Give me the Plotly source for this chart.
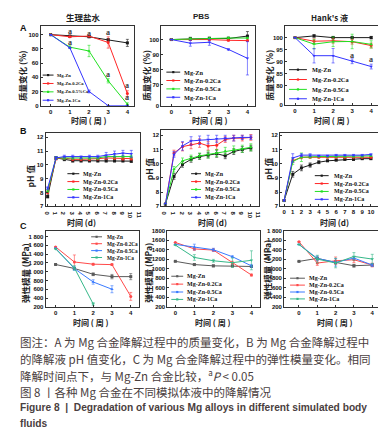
import plotly.graph_objects as go

W, H = 386, 429
def PX(x): return x / W
def PY(y): return 1 - y / H

# ---------------- data ----------------
weeks = [0, 1, 2, 3, 4]
days = [0, 1, 2, 3, 4, 5, 6, 7, 8, 9, 10]
names = ["Mg-Zn", "Mg-Zn-0.2Ca", "Mg-Zn-0.5Ca", "Mg-Zn-1Ca"]
names_a1 = ["Mg-Zn", "Mg-Zn-0.2Ca", "Mg-Zn-0.5%Ca", "Mg-Zn-1Ca"]

# A: mass change (%)
a1_zn = [100, 98, 97, 92.6, 88.4]
a1_02 = [100, 97, 98, 89, 17]
a1_05 = [100, 82.4, 77, 35, 2]
a1_10 = [100, 81.5, 20, 0, 0]
a1_err = [[0, 1, 1, 2, 5], [0, 1, 1, 8, 4], [0, 2, 8, 3, 2], [0, 1, 2, 0, 0]]

a2_zn = [100, 100.5, 100.7, 100.7, 102.3]
a2_02 = [100, 100, 100, 99.5, 99.3]
a2_05 = [100, 100.5, 100.8, 101, 101]
a2_10 = [100, 97.6, 98.2, 93.5, 87.6]
a2_err = [[0, 1, 1, 1, 3], [0, 0.5, 0.5, 0.5, 0.5], [0, 0.5, 0.5, 0.5, 0.5], [0, 2, 2, 0.5, 11]]

a3_zn = [100, 100.7, 100, 100, 100]
a3_02 = [100, 98.5, 98.7, 98.3, 96.7]
a3_05 = [100, 97.3, 98.3, 98.4, 97.2]
a3_10 = [100, 92.5, 92.5, 90.2, 88.0]
a3_err = [[0, 0.5, 0.5, 0.5, 0.5], [0, 1, 1, 1, 1], [0, 2, 2, 3, 1.5], [0, 3, 3, 1, 1]]

# B: pH value
b1_zn = [7.7, 10.5, 10.4, 10.3, 10.3, 10.3, 10.3, 10.3, 10.3, 10.3, 10.27]
b1_02 = [8.0, 10.45, 10.5, 10.4, 10.4, 10.4, 10.45, 10.5, 10.5, 10.45, 10.45]
b1_05 = [8.1, 10.5, 10.5, 10.5, 10.5, 10.5, 10.5, 10.6, 10.6, 10.6, 10.6]
b1_10 = [8.3, 10.5, 10.6, 10.6, 10.55, 10.6, 10.6, 10.7, 10.8, 10.85, 10.8]
b1_err = [[0.1] * 11, [0.1] * 11, [0.1] * 11, [0.1, 0.1, 0.1, 0.1, 0.1, 0.1, 0.1, 0.2, 0.2, 0.2, 0.25]]

b2_zn = [7.15, 9.1, 9.95, 10.3, 10.5, 10.6, 10.7, 10.55, 10.85, 11.0, 11.1]
b2_02 = [7.15, 10.75, 11.2, 11.35, 11.45, 11.25, 11.3, 11.7, 11.8, 11.8, 11.85]
b2_05 = [7.15, 9.6, 10.2, 10.4, 10.55, 10.65, 10.75, 10.9, 11.0, 11.05, 11.15]
b2_10 = [7.15, 10.65, 11.25, 11.6, 11.65, 11.7, 11.75, 11.8, 11.8, 11.85, 11.85]
b2_err = [[0.05, 0.2, 0.2, 0.2, 0.2, 0.2, 0.25, 0.2, 0.2, 0.2, 0.2],
          [0.05, 0.2, 0.3, 0.3, 0.3, 0.3, 0.3, 0.2, 0.2, 0.2, 0.2],
          [0.05, 0.2, 0.2, 0.2, 0.2, 0.25, 0.25, 0.25, 0.25, 0.25, 0.25],
          [0.05, 0.2, 0.3, 0.3, 0.3, 0.3, 0.25, 0.2, 0.2, 0.15, 0.15]]

b3_zn = [7.4, 9.25, 9.7, 9.9, 10.1, 10.2, 10.25, 10.3, 10.3, 10.35, 10.35]
b3_02 = [7.4, 10.2, 10.45, 10.45, 10.45, 10.45, 10.45, 10.45, 10.45, 10.45, 10.45]
b3_05 = [7.4, 10.15, 10.45, 10.5, 10.5, 10.5, 10.5, 10.5, 10.5, 10.5, 10.55]
b3_10 = [7.4, 10.4, 10.6, 10.6, 10.55, 10.55, 10.6, 10.6, 10.6, 10.6, 10.65]
b3_err = [[0.05, 0.2, 0.2, 0.15, 0.1, 0.05, 0.05, 0.05, 0.05, 0.05, 0.05],
          [0.05, 0.1, 0.1, 0.05, 0.05, 0.05, 0.05, 0.05, 0.05, 0.05, 0.05],
          [0.05, 0.2, 0.3, 0.1, 0.05, 0.05, 0.05, 0.05, 0.05, 0.05, 0.05],
          [0.05, 0.3, 0.1, 0.1, 0.05, 0.05, 0.05, 0.05, 0.05, 0.05, 0.05]]

# C: elastic modulus (MPa)
c1_zn = [1163, 1073, 940, 887, 887]
c1_02 = [1563, 1220, 1170, 1160, 437]
c1_05 = [1533, 1070, 765, 600]
c1_10 = [1518, 1085, 265]
c1_err = [[0, 0, 30, 50, 70], [0, 160, 20, 20, 90], [0, 40, 50, 80], [0, 50, 30]]

c2_zn = [1158, 1090, 1063, 1063, 1050]
c2_02 = [1556, 1420, 1395, 1130, 870]
c2_05 = [1515, 1460, 1403, 1255, 1063]
c2_10 = [1500, 1240, 1170, 1130, 1180]
c2_err = [[0, 20, 20, 20, 20], [0, 30, 30, 30, 20], [0, 60, 30, 20, 30], [0, 60, 30, 100, 200]]

c3_zn = [1157, 1220, 1136, 1066, 1080]
c3_02 = [1570, 1122, 1170, 1192, 1080]
c3_05 = [1514, 1220, 1136, 1227, 1080]
c3_10 = [1514, 1206, 1122, 1262, 1206]
c3_err = [[0, 30, 30, 30, 30], [0, 50, 80, 60, 40], [0, 50, 80, 30, 30], [0, 80, 100, 80, 100]]

# significance marks "a" (x, y)
a1_sig = [(1, 104), (1, 89), (2, 101), (3, 103), (3, 44), (4, 28), (4, 12)]
a3_sig = [(1, 105.6), (2, 105.6), (3, 92.6), (4, 90.9)]

# tick labels
ticks_a1 = ([0, 20, 40, 60, 80, 100], ["0", "20", "40", "60", "80", "100"])
ticks_a2 = ([56.3, 70, 80, 90, 100], ["0", "70", "80", "90", "100"])
ticks_a3 = ([72.2, 80, 85, 90, 95, 100], ["0", "80", "85", "90", "95", "100"])
ticks_b = ([7, 8, 9, 10, 11, 12], ["7", "8", "9", "10", "11", "12"])
ticks_c1 = ([200, 400, 600, 800, 1000, 1200, 1400, 1600, 1800],
            ["200", "400", "600", "800", "1 000", "1 200", "1 400", "1 600", "1 800"])
ticks_c2 = ([200, 400, 600, 800, 1000, 1200, 1400, 1600, 1800],
            ["200", "400", "600", "800", "1000", "1200", "1400", "1600", "1800"])
xt_weeks = ([0, 1, 2, 3, 4], ["0", "1", "2", "3", "4"])
xt_days = (list(range(12)), [str(i) for i in range(12)])

# ---------------- styling ----------------
col_ab = ["#1a1a1a", "#ff2626", "#22e022", "#3434ff"]
col_c = ["#5a5a5a", "#ff4a4a", "#3a7bff", "#36b889"]
symbols = ["square", "circle", "triangle-up", "triangle-down"]

panels = [
    dict(box=(31, 125, 15, 96), xr=(-0.52, 4.33), yr=(0, 112.5), xt=xt_weeks, yt=ticks_a1,
         x=weeks, ys=[a1_zn, a1_02, a1_05, a1_10], err=a1_err, cols=col_ab,
         leg=dict(ys=[65, 73.5, 82, 90.5], x0=33, x1=44, xt=45, fs=4.6, names=names_a1)),
    dict(box=(153, 248, 15, 96), xr=(-0.52, 4.42), yr=(56.3, 109.1), xt=xt_weeks, yt=ticks_a2,
         x=weeks, ys=[a2_zn, a2_02, a2_05, a2_10], err=a2_err, cols=col_ab,
         leg=dict(ys=[62, 70.5, 79, 87.5], x0=158, x1=172, xt=174, fs=6.3, names=names)),
    dict(box=(278, 374, 15, 95), xr=(-0.52, 4.47), yr=(72.2, 104.9), xt=xt_weeks, yt=ticks_a3,
         x=weeks, ys=[a3_zn, a3_02, a3_05, a3_10], err=a3_err, cols=col_ab,
         leg=dict(ys=[59.5, 69.5, 79.5, 89], x0=282, x1=300, xt=303, fs=6.3, names=names)),
    dict(box=(36, 131, 124, 198), xr=(-0.24, 11), yr=(7, 12.29), xt=xt_days, yt=ticks_b,
         x=days, ys=[b1_zn, b1_02, b1_05, b1_10], err=b1_err, cols=col_ab,
         leg=dict(ys=[165, 173, 181, 189], x0=58, x1=70, xt=72, fs=6.0, names=names)),
    dict(box=(153, 252, 121, 198), xr=(-0.47, 11), yr=(7, 12.35), xt=xt_days, yt=ticks_b,
         x=days, ys=[b2_zn, b2_02, b2_05, b2_10], err=b2_err, cols=col_ab,
         leg=dict(ys=[165, 173, 181, 189], x0=183, x1=193, xt=195, fs=6.0, names=names)),
    dict(box=(273, 373, 124, 198), xr=(-0.45, 10.95), yr=(7, 12.14), xt=xt_days, yt=ticks_b,
         x=days, ys=[b3_zn, b3_02, b3_05, b3_10], err=b3_err, cols=col_ab,
         leg=dict(ys=[167, 175, 183, 191], x0=308, x1=322, xt=325, fs=6.0, names=names)),
    dict(box=(36, 130, 223, 300), xr=(-0.53, 4.42), yr=(200, 1928), xt=xt_weeks, yt=ticks_c1,
         x=weeks, ys=[c1_zn, c1_02, c1_05, c1_10], err=c1_err, cols=col_c,
         leg=dict(ys=[229, 236, 243, 250], x0=82, x1=93, xt=96, fs=5.3, names=names)),
    dict(box=(159, 253, 223, 300), xr=(-0.42, 4.47), yr=(200, 1800), xt=xt_weeks, yt=ticks_c2,
         x=weeks, ys=[c2_zn, c2_02, c2_05, c2_10], err=c2_err, cols=col_c,
         leg=dict(ys=[269, 277, 285, 292.5], x0=163, x1=175, xt=177, fs=6.0, names=names)),
    dict(box=(277, 374, 223, 300), xr=(-0.81, 4.43), yr=(200, 1800), xt=xt_weeks, yt=ticks_c1,
         x=weeks, ys=[c3_zn, c3_02, c3_05, c3_10], err=c3_err, cols=col_c,
         leg=dict(ys=[271, 278, 285, 292], x0=283, x1=298, xt=300, fs=6.0, names=names)),
]

fig = go.Figure()
layout = dict(width=W, height=H, margin=dict(l=0, r=0, t=0, b=0), autosize=False,
              paper_bgcolor="white", plot_bgcolor="white", showlegend=False)
shapes, annos = [], []
tickfont = dict(family="Liberation Sans", size=6, color="#111", weight="bold")
serif = "Liberation Serif"
cjk = "Noto Sans CJK SC"

for i, p in enumerate(panels, start=1):
    sfx = "" if i == 1 else str(i)
    l, r, t, b = p["box"]
    common = dict(tickfont=tickfont, showline=True, mirror=True, linecolor="#333", linewidth=1,
                  ticks="inside", ticklen=2, tickwidth=0.8, tickcolor="#333",
                  showgrid=False, zeroline=False, fixedrange=True)
    layout["xaxis" + sfx] = dict(domain=[PX(l), PX(r)], range=list(p["xr"]), anchor="y" + sfx,
                                 tickvals=p["xt"][0], ticktext=p["xt"][1], **common)
    layout["yaxis" + sfx] = dict(domain=[PY(b), PY(t)], range=list(p["yr"]), anchor="x" + sfx,
                                 tickvals=p["yt"][0], ticktext=p["yt"][1], **common)
    for k, (yv, ev) in enumerate(zip(p["ys"], p["err"])):
        c = p["cols"][k]
        xs = p["x"][:len(yv)]
        fig.add_trace(go.Scatter(
            x=xs, y=yv, mode="lines+markers", name=p["leg"]["names"][k],
            line=dict(color=c, width=1),
            marker=dict(symbol=symbols[k], size=3, color=c),
            error_y=dict(type="data", array=ev, color=c, thickness=0.6, width=1.5),
            xaxis="x" + sfx, yaxis="y" + sfx, cliponaxis=False))
    lg = p["leg"]
    for k, yy in enumerate(lg["ys"]):
        c = p["cols"][k]
        shapes.append(dict(type="line", xref="paper", yref="paper",
                           x0=PX(lg["x0"]), x1=PX(lg["x1"]), y0=PY(yy), y1=PY(yy),
                           line=dict(color=c, width=1)))
        cx = (lg["x0"] + lg["x1"]) / 2
        shapes.append(dict(type="rect", xref="paper", yref="paper",
                           x0=PX(cx - 1.1), x1=PX(cx + 1.1), y0=PY(yy - 1.1), y1=PY(yy + 1.1),
                           line=dict(width=0), fillcolor=c))
        annos.append(dict(text=lg["names"][k], xref="paper", yref="paper",
                          x=PX(lg["xt"]), y=PY(yy), xanchor="left", yanchor="middle",
                          showarrow=False, font=dict(family=serif, size=lg["fs"], color="#111",
                                                     weight="bold")))

# significance letters
for (xx, yy) in a1_sig:
    annos.append(dict(text="a", x=xx, y=yy, xref="x", yref="y", showarrow=False,
                      font=dict(family=serif, size=8, color="#3a3a3a", weight="bold")))
for (xx, yy) in a3_sig:
    annos.append(dict(text="a", x=xx, y=yy, xref="x3", yref="y3", showarrow=False,
                      font=dict(family=serif, size=8, color="#3a3a3a", weight="bold")))

def txt(s, x, y, size=8, angle=0, family=cjk, color="#222", weight="bold", xanchor="center"):
    annos.append(dict(text=s, x=PX(x), y=PY(y), xref="paper", yref="paper", showarrow=False,
                      textangle=angle, xanchor=xanchor, yanchor="middle",
                      font=dict(family=family, size=size, color=color, weight=weight)))

# panel titles
txt("生理盐水", 74, 6, size=8.5)
txt("PBS", 193, 6, size=8, family="Liberation Sans")
txt("Hank's 液", 323, 7, size=8)
# panel letters
txt("A", 14, 17, size=9, family="Liberation Sans", color="#111")
txt("B", 14, 122, size=9, family="Liberation Sans", color="#111")
txt("C", 14, 218, size=9, family="Liberation Sans", color="#111")
# y titles
for xx in (12, 138, 262):
    txt("质量变化 (%)", xx, 65, size=8.5, angle=-90)
for xx, yy in ((20, 167), (140, 160), (260, 160)):
    txt("pH 值", xx, yy, size=8.5, angle=-90)
for xx, yy in ((15, 266), (140, 266), (260, 262)):
    txt("弹性模量 (MPa)", xx, yy, size=8.5, angle=-90)
# x titles
for xx in (80, 202, 325):
    txt("时间 ( 周 )", xx, 111, size=8)
for xx in (72, 205, 328):
    txt("时间 (d)", xx, 215, size=8)
for xx in (82, 205, 328):
    txt("时间 ( 周 )", xx, 315.5, size=8)

# caption
cap_col = "#4a4040"
cap_size = 11.5
txt("图注：A 为 Mg 合金降解过程中的质量变化，B 为 Mg 合金降解过程中", 8, 336, size=cap_size,
    color=cap_col, weight="normal", xanchor="left")
txt("的降解液 pH 值变化，C 为 Mg 合金降解过程中的弹性模量变化。相同", 8, 353, size=cap_size,
    color=cap_col, weight="normal", xanchor="left")
txt("降解时间点下，与 Mg-Zn 合金比较，<sup>a</sup><i>P</i> &lt; 0.05", 8, 369.5, size=cap_size,
    color=cap_col, weight="normal", xanchor="left")
txt("图 8 丨各种 Mg 合金在不同模拟体液中的降解情况", 8, 386, size=cap_size,
    color=cap_col, weight="normal", xanchor="left")
txt("Figure 8  |  Degradation of various Mg alloys in different simulated body", 8, 402,
    size=10.2, family="Liberation Sans", color=cap_col, weight="bold", xanchor="left")
txt("fluids", 8, 418, size=10.2, family="Liberation Sans", color=cap_col, weight="bold",
    xanchor="left")

layout["shapes"] = shapes
layout["annotations"] = annos
fig.update_layout(**layout)
fig.write_html("out.html", config={"displayModeBar": False, "responsive": False})
